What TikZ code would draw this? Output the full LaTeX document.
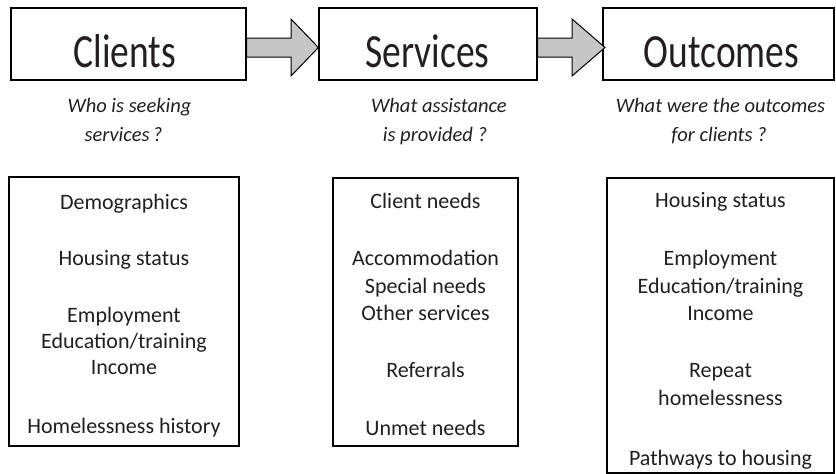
\documentclass[tikz,border=0pt]{standalone}
\usepackage{fontspec}
\setmainfont{Carlito}
\definecolor{arrowgray}{RGB}{198,198,198}
\definecolor{inkgray}{RGB}{35,31,32}
\tikzset{
  boxstyle/.style={draw=black, line width=1.2pt, fill=white, inner sep=0pt},
  titletext/.style={font=\fontsize{37.5}{40}\selectfont, text=inkgray, anchor=base, inner sep=0pt},
  subtext/.style={font=\fontsize{20.5}{29}\selectfont\itshape, text=inkgray, anchor=base, inner sep=0pt},
  itemtext/.style={font=\fontsize{22}{27}\selectfont, text=inkgray, anchor=base, inner sep=0pt},
  flowarrow/.style={draw=black, line width=1pt, fill=arrowgray, line join=miter}
}
\begin{document}
\begin{tikzpicture}[x=1pt,y=-1pt]
\useasboundingbox (0,0) rectangle (836,474);
% top boxes
\node[boxstyle, minimum width=235pt, minimum height=72pt] (cbox) at (128.5,44) {};
\node[boxstyle, minimum width=218pt, minimum height=72pt] (sbox) at (428,44) {};
\node[boxstyle, minimum width=231pt, minimum height=72pt] (obox) at (718.5,44) {};
\node[titletext] (ctitle) at (125,67) {\scalebox{1}[1.27]{Clients}};
\node[titletext] (stitle) at (427.5,67) {\scalebox{1}[1.27]{Services}};
\node[titletext] (otitle) at (721.5,67) {\scalebox{1}[1.27]{Outcomes}};
% block arrows
\draw[flowarrow] (cbox.east|-0,38) -- (291,38) -- (291,19) -- (sbox.west|-0,47.5)
  -- (291,76) -- (291,57) -- (cbox.east|-0,57) -- cycle;
\draw[flowarrow] (sbox.east|-0,38) -- (572,38) -- (572,19) -- (605,47.5)
  -- (572,76) -- (572,57) -- (sbox.east|-0,57) -- cycle;
% subtitles
\node[subtext] (csub1) at (129.5,112) {Who is seeking};
\node[subtext] (csub2) at (123.5,141) {services\,?};
\node[subtext] (ssub1) at (439,112) {What assistance};
\node[subtext] (ssub2) at (435,141) {is provided ?};
\node[subtext] (osub1) at (720.5,112) {What were the outcomes};
\node[subtext] (osub2) at (719,141) {for clients ?};
% lower boxes
\node[boxstyle, minimum width=230pt, minimum height=269pt] (clist) at (124,311.5) {};
\node[boxstyle, minimum width=185pt, minimum height=268pt] (slist) at (425.5,312) {};
\node[boxstyle, minimum width=227pt, minimum height=295pt] (olist) at (720.5,325.5) {};
% clients items
\node[itemtext] (c1) at (124,209) {Demographics};
\node[itemtext] (c2) at (124,265) {Housing status};
\node[itemtext] (c3) at (124,322) {Employment};
\node[itemtext] (c4) at (124,348) {Education/training};
\node[itemtext] (c5) at (124,374) {Income};
\node[itemtext] (c6) at (124,433) {Homelessness history};
% services items
\node[itemtext] (s1) at (425.5,208) {Client needs};
\node[itemtext] (s2) at (425.5,265) {Accommodation};
\node[itemtext] (s3) at (425.5,293) {Special needs};
\node[itemtext] (s4) at (425.5,320) {Other services};
\node[itemtext] (s5) at (425.5,377) {Referrals};
\node[itemtext] (s6) at (425.5,435) {Unmet needs};
% outcomes items
\node[itemtext] (o1) at (720.5,207) {Housing status};
\node[itemtext] (o2) at (720.5,265) {Employment};
\node[itemtext] (o3) at (720.5,293) {Education/training};
\node[itemtext] (o4) at (720.5,320) {Income};
\node[itemtext] (o5) at (720.5,377) {Repeat};
\node[itemtext] (o6) at (720.5,405) {homelessness};
\node[itemtext] (o7) at (720.5,465) {Pathways to housing};
\end{tikzpicture}
\end{document}
